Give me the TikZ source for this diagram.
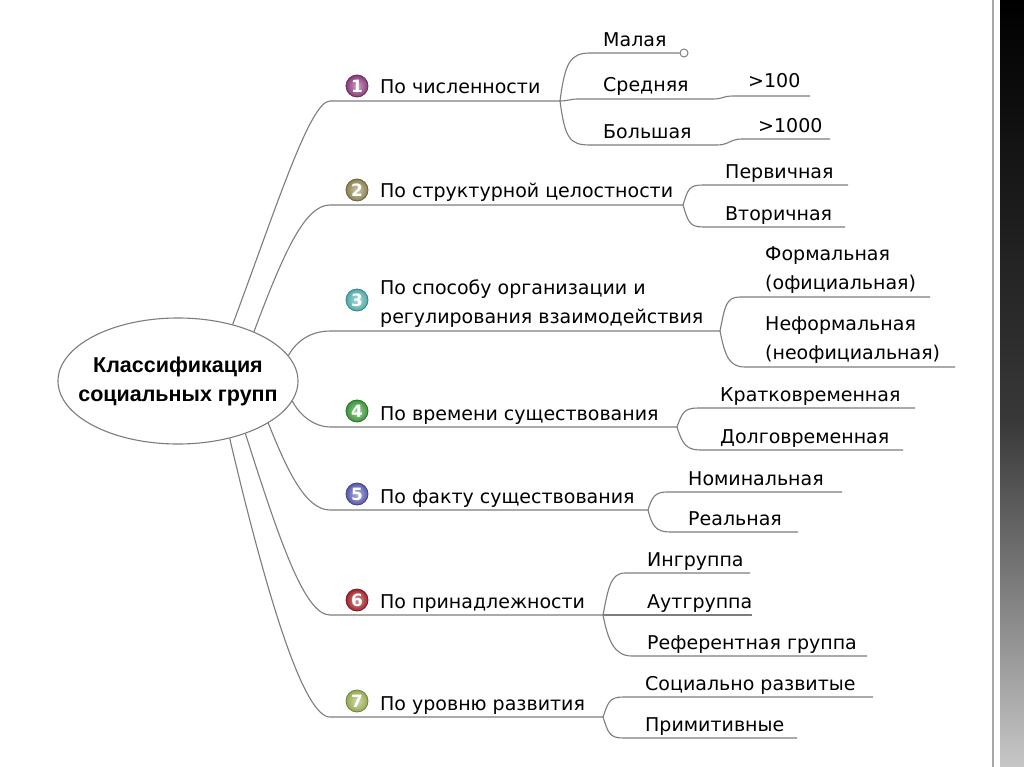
\documentclass[tikz,border=0pt]{standalone}
\usepackage{fontspec}
\setmainfont{DejaVu Sans}
\newfontfamily\hubfont{Liberation Sans}
\usepackage{xcolor}
\usetikzlibrary{shapes.geometric,calc}

\definecolor{wiregray}{RGB}{125,125,125}
\definecolor{numOne}{RGB}{138,58,122}
\definecolor{numTwo}{RGB}{140,130,82}
\definecolor{numThree}{RGB}{80,170,172}
\definecolor{numFour}{RGB}{56,150,56}
\definecolor{numFive}{RGB}{88,88,176}
\definecolor{numSix}{RGB}{160,36,44}
\definecolor{numSeven}{RGB}{150,170,80}

\begin{document}
\begin{tikzpicture}[
x=1pt, y=-1pt,
wire/.style={draw=wiregray, line width=1.1pt},
lbl/.style={anchor=base west, inner sep=0pt, align=left,
  font=\fontsize{19}{29}\selectfont},
badge/.style={circle, minimum size=22pt, inner sep=0pt, text=white,
  draw=#1!75!black, line width=0.8pt,
  inner color=#1!45!white, outer color=#1,
  font=\fontsize{17}{17}\selectfont\bfseries},
hub/.style={ellipse, draw=wiregray, line width=1.1pt, fill=white,
  minimum width=240pt, minimum height=126pt, inner xsep=-30pt,
  inner ysep=0pt, align=center,
  font=\hubfont\bfseries\fontsize{21.5}{29}\selectfont},
knob/.style={circle, draw=wiregray, fill=white, line width=1pt,
  minimum size=8pt, inner sep=0pt}
]
\fill[white] (0,0) rectangle (1024,767);
\useasboundingbox (0,0) rectangle (1024,767);

% slide edge
\draw[black!35, line width=2pt] (993,0) -- (993,767);
\shade[top color=black, bottom color=black!78] (1000,0) rectangle (1024,420);
\shade[top color=black!78, bottom color=black!22] (1000,420) rectangle (1024,767);

\node[hub] (c) at (178,381) {Классификация\\социальных групп};

\foreach \i/\y/\col in {1/86/numOne, 2/190/numTwo, 3/300/numThree,
  4/411/numFour, 5/494/numFive, 6/600/numSix, 7/701/numSeven}
  \node[badge=\col] (n\i) at (357,\y) {\i};

\node[lbl] (b1) at (380,94) {По численности};
\node[lbl] (b2) at (380,198) {По структурной целостности};
\node[lbl] (b3) at (380,323) {По способу организации и\\регулирования взаимодействия};
\node[lbl] (b4) at (380,420) {По времени существования};
\node[lbl] (b5) at (380,503) {По факту существования};
\node[lbl] (b6) at (380,608) {По принадлежности};
\node[lbl] (b7) at (380,710) {По уровню развития};

\coordinate (s1) at (330,101); \coordinate (f1) at (560,101);
\coordinate (s2) at (330,205); \coordinate (f2) at (683,205);
\coordinate (s3) at (330,331); \coordinate (f3) at (720,331);
\coordinate (s4) at (330,427); \coordinate (f4) at (677,427);
\coordinate (s5) at (330,510); \coordinate (f5) at (648,510);
\coordinate (s6) at (330,615); \coordinate (f6) at (603,615);
\coordinate (s7) at (330,717); \coordinate (f7) at (603,717);

\draw[wire] (c.46) .. controls +(44,-118) and +(-20,0) .. (s1) -- (f1);
\draw[wire] (c.33) .. controls +(30,-80) and +(-25,0) .. (s2) -- (f2);
\draw[wire] (c.13) .. controls +(10,-18) and +(-15,0) .. (s3) -- (f3);
\draw[wire] (c.-10) .. controls +(8,15) and +(-15,0) .. (s4) -- (f4);
\draw[wire] (c.-25) .. controls +(18,45) and +(-25,0) .. (s5) -- (f5);
\draw[wire] (c.-38) .. controls +(35,110) and +(-25,0) .. (s6) -- (f6);
\draw[wire] (c.-48) .. controls +(40,170) and +(-25,0) .. (s7) -- (f7);

% 1
\node[lbl] (l11) at (603,47) {Малая};
\node[lbl] (l12) at (603,92) {Средняя};
\node[lbl] (l12a) at (748,88) {>100};
\node[lbl] (l13) at (603,139) {Большая};
\node[lbl] (l13a) at (758,133) {>1000};
\node[knob] (k11) at (684,53) {};
\draw[wire] (f1) .. controls +(5,-38) and +(-20,0) .. (590,53) -- (k11);
\draw[wire] (f1) .. controls +(8,0) and +(-8,0) .. (578,99) -- (713,99)
  .. controls +(10,0) and +(-10,0) .. (733,96) -- (810,96);
\draw[wire] (f1) .. controls +(5,38) and +(-20,0) .. (590,145) -- (717,145)
  .. controls +(12,0) and +(-12,0) .. (742,139) -- (830,139);

% 2
\node[lbl] (l21) at (725,179) {Первичная};
\node[lbl] (l22) at (725,221) {Вторичная};
\draw[wire] (f2) .. controls +(5,-16) and +(-14,0) .. (703,185) -- (848,185);
\draw[wire] (f2) .. controls +(5,16) and +(-14,0) .. (703,227) -- (845,227);

% 3
\node[lbl] (l31) at (765,289) {Формальная\\(официальная)};
\node[lbl] (l32) at (765,359) {Неформальная\\(неофициальная)};
\draw[wire] (f3) .. controls +(5,-25) and +(-14,0) .. (740,297) -- (930,297);
\draw[wire] (f3) .. controls +(5,25) and +(-16,0) .. (745,367) -- (955,367);

% 4
\node[lbl] (l41) at (720,401) {Кратковременная};
\node[lbl] (l42) at (720,443) {Долговременная};
\draw[wire] (f4) .. controls +(5,-14) and +(-14,0) .. (698,408) -- (915,408);
\draw[wire] (f4) .. controls +(5,16) and +(-14,0) .. (700,450) -- (903,450);

% 5
\node[lbl] (l51) at (688,485) {Номинальная};
\node[lbl] (l52) at (688,525) {Реальная};
\draw[wire] (f5) .. controls +(4,-13) and +(-12,0) .. (667,492) -- (842,492);
\draw[wire] (f5) .. controls +(4,16) and +(-14,0) .. (670,532) -- (798,532);

% 6
\node[lbl] (l61) at (647,566) {Ингруппа};
\node[lbl] (l62) at (647,608) {Аутгруппа};
\node[lbl] (l63) at (647,649) {Референтная группа};
\draw[wire] (f6) .. controls +(5,-25) and +(-15,0) .. (625,573) -- (750,573);
\draw[wire] (f6) -- (752,615);
\draw[wire] (f6) .. controls +(5,25) and +(-18,0) .. (632,656) -- (867,656);

% 7
\node[lbl] (l71) at (645,690) {Социально развитые};
\node[lbl] (l72) at (645,731) {Примитивные};
\draw[wire] (f7) .. controls +(5,-14) and +(-14,0) .. (623,697) -- (873,697);
\draw[wire] (f7) .. controls +(5,15) and +(-14,0) .. (623,738) -- (797,738);
\end{tikzpicture}
\end{document}
